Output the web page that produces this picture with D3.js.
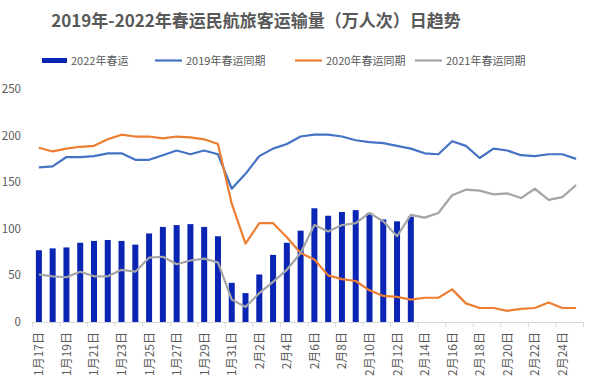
<!DOCTYPE html>
<html><head><meta charset="utf-8">
<script src="https://cdn.jsdelivr.net/npm/d3@7/dist/d3.min.js"></script>
<style>body{margin:0;background:#fff}svg{display:block}text{font-family:"Noto Sans CJK SC","Noto Sans",sans-serif}</style>
</head><body><svg id="c" width="600" height="383"></svg>
<script>
const dates = [];
for (let d = 17; d <= 31; d++) dates.push("1月" + d + "日");
for (let d = 1; d <= 25; d++) dates.push("2月" + d + "日");

const s2022 = [77,79,80,85,87,88,87,83,95,102,104,105,102,92,42,31,51,72,85,98,122,114,118,120,117,110,108,113];
const s2019 = [166,167,177,177,178,181,181,174,174,179,184,180,184,180,143,159,178,186,191,199,201,201,199,195,193,192,189,186,181,180,194,189,176,186,184,179,178,180,180,175];
const s2020 = [187,183,186,188,189,196,201,199,199,197,199,198,196,191,127,84,106,106,91,74,67,50,46,44,34,28,27,24,26,26,35,20,15,15,12,14,15,21,15,15];
const s2021 = [51,49,48,54,49,49,56,54,69,70,62,66,68,64,24,16,31,43,56,74,104,97,104,106,117,108,92,115,112,117,136,142,141,137,138,133,143,131,134,147];
const yTicks = [0,50,100,150,200,250];
const seriesNames = ["2022年春运","2019年春运同期","2020年春运同期","2021年春运同期"];
const colors = ["#0A25B4","#4472C4","#ED7D31","#A5A5A5"];

const svg = d3.select("#c");
const x = d3.scaleBand().domain(dates).range([32,583]).padding(0);
const y = d3.scaleLinear().domain([0,250]).range([322,89]);

svg.append("text").attr("x",256).attr("y",27).attr("text-anchor","middle")
  .attr("font-size",17).attr("font-weight","bold").attr("fill","#595959")
  .text("2019年-2022年春运民航旅客运输量（万人次）日趋势");

// y labels
svg.append("g").selectAll("text").data(yTicks).join("text")
  .attr("x",21).attr("y",d=>y(d)+4).attr("text-anchor","end")
  .attr("font-size",11.5).attr("fill","#595959").text(d=>d);

// x axis
const ax = svg.append("g");
ax.append("line").attr("x1",32).attr("x2",583).attr("y1",322.5).attr("y2",322.5).attr("stroke","#d9d9d9");
ax.selectAll("line.t").data(dates.filter((d,i)=>i%2===0).concat(["end"])).join("line").attr("class","t")
  .attr("x1",(d,i)=>32+i*2*x.bandwidth()+0.5).attr("x2",(d,i)=>32+i*2*x.bandwidth()+0.5)
  .attr("y1",322).attr("y2",327).attr("stroke","#d9d9d9");
ax.selectAll("text").data(dates.filter((d,i)=>i%2===0)).join("text")
  .attr("transform",d=>`translate(${x(d)+x.bandwidth()/2+4.5},332) rotate(-90)`)
  .attr("text-anchor","end").attr("font-size",12).attr("fill","#595959").text(d=>d);

// bars
svg.append("g").selectAll("rect").data(s2022).join("rect")
  .attr("x",(d,i)=>x(dates[i])+x.bandwidth()/2-3).attr("width",6)
  .attr("y",d=>y(d)).attr("height",d=>y(0)-y(d)).attr("fill",colors[0]);

const line = d3.line().x((d,i)=>x(dates[i])+x.bandwidth()/2).y(d=>y(d));
[s2019,s2020,s2021].forEach((s,k)=>{
  svg.append("path").datum(s).attr("d",line).attr("fill","none")
    .attr("stroke",colors[k+1]).attr("stroke-width",2.2).attr("stroke-linejoin","round");
});

// legend
const lg = [{x:42,t:0},{x:155,t:1},{x:295,t:2},{x:415,t:3}];
const L = svg.append("g");
lg.forEach((o,k)=>{
  if(k===0) L.append("rect").attr("x",o.x).attr("y",58).attr("width",25).attr("height",5).attr("fill",colors[0]);
  else L.append("line").attr("x1",o.x).attr("x2",o.x+27).attr("y1",60.5).attr("y2",60.5).attr("stroke",colors[k]).attr("stroke-width",2.2);
  L.append("text").attr("x",o.x+(k===0?29:31)).attr("y",64.5).attr("font-size",11).attr("fill","#595959").text(seriesNames[k]);
});
</script></body></html>
